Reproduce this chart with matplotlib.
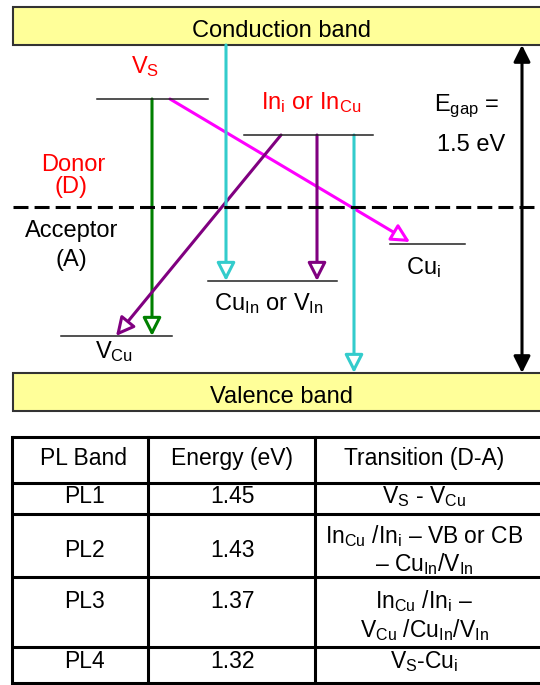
import matplotlib.pyplot as plt
from matplotlib.patches import Rectangle, FancyArrowPatch

plt.rcParams['font.family'] = ['Liberation Sans', 'DejaVu Sans']
plt.rcParams['mathtext.fontset'] = 'custom'
plt.rcParams['mathtext.rm'] = 'Liberation Sans'
plt.rcParams['mathtext.it'] = 'Liberation Sans:italic'
plt.rcParams['mathtext.bf'] = 'Liberation Sans:bold'

# energy levels (x from, x to, y) in picture pixels
level_x0 = [97, 244, 61, 208, 390]
level_x1 = [208, 373, 172, 337, 465]
level_y = [99, 135, 336, 281, 244]

# transitions: start -> end, colour
trans_x0 = [152, 170, 281, 317, 226, 354]
trans_y0 = [99, 99, 135, 135, 45, 135]
trans_x1 = [152, 410, 116, 317, 226, 354]
trans_y1 = [336, 242, 336, 281, 281, 373]
trans_col = ['#008000', '#ff00ff', '#800080', '#800080', '#33cccc', '#33cccc']

# table
headers = ['PL Band', 'Energy (eV)', 'Transition (D-A)']
pl_bands = ['PL1', 'PL2', 'PL3', 'PL4']
energies = ['1.45', '1.43', '1.37', '1.32']
transitions = [
    [r'$\mathrm{V}_\mathrm{S}$ - $\mathrm{V}_\mathrm{Cu}$'],
    [r'$\mathrm{In}_\mathrm{Cu}$ /$\mathrm{In}_\mathrm{i}$ – VB or CB',
     r'– $\mathrm{Cu}_\mathrm{In}$/$\mathrm{V}_\mathrm{In}$'],
    [r'$\mathrm{In}_\mathrm{Cu}$ /$\mathrm{In}_\mathrm{i}$ –',
     r'$\mathrm{V}_\mathrm{Cu}$ /$\mathrm{Cu}_\mathrm{In}$/$\mathrm{V}_\mathrm{In}$'],
    [r'$\mathrm{V}_\mathrm{S}$-$\mathrm{Cu}_\mathrm{i}$'],
]
row_lines = [437, 483, 514, 577, 647, 683]
col_lines = [12, 148, 315]
pl_base = [503, 557, 608, 668]
tr_base = [[503], [543, 571], [608, 637], [668]]

FS = 17
TFS = 16.5

fig = plt.figure(figsize=(5.4, 6.85), dpi=100)
ax = fig.add_axes([0, 0, 1, 1])
ax.set_xlim(0, 540)
ax.set_ylim(685, 0)
ax.axis('off')

# bands
for y0, y1, name, base in [(7, 45, 'Conduction band', 37), (373, 411, 'Valence band', 403)]:
    ax.add_patch(Rectangle((13, y0), 540, y1 - y0, fc='#ffff99', ec='#333333', lw=1.5))
    ax.text(282, base, name, ha='center', va='baseline', fontsize=FS)

ax.plot([13, 540], [207, 207], color='black', lw=2.2, ls=(0, (4.9, 2)))

for x0, x1, y in zip(level_x0, level_x1, level_y):
    ax.plot([x0, x1], [y, y], color='#222222', lw=1.1)

for x0, y0, x1, y1, c in zip(trans_x0, trans_y0, trans_x1, trans_y1, trans_col):
    ax.add_patch(FancyArrowPatch((x0, y0), (x1, y1),
                                 arrowstyle='-|>,head_length=0.55,head_width=0.28',
                                 mutation_scale=20, shrinkA=0, shrinkB=0,
                                 ec=c, fc='white', lw=2.2))

ax.add_patch(FancyArrowPatch((522, 45), (522, 373),
                             arrowstyle='<|-|>,head_length=0.5,head_width=0.25',
                             mutation_scale=20, shrinkA=0, shrinkB=0,
                             ec='black', fc='black', lw=2.2))

red = '#ff0000'
ax.text(131, 73, r'$\mathrm{V}_\mathrm{S}$', color=red, fontsize=FS, va='baseline')
ax.text(261, 109, r'$\mathrm{In}_\mathrm{i}$ or $\mathrm{In}_\mathrm{Cu}$', color=red,
        fontsize=FS, va='baseline')
ax.text(73, 171, 'Donor', color=red, fontsize=FS, ha='center', va='baseline')
ax.text(71, 193, '(D)', color=red, fontsize=FS, ha='center', va='baseline')
ax.text(72, 237, 'Acceptor', fontsize=FS, ha='center', va='baseline')
ax.text(71, 266, '(A)', fontsize=FS, ha='center', va='baseline')
ax.text(434, 111, r'$\mathrm{E}_\mathrm{gap}$ =', fontsize=FS, va='baseline')
ax.text(437, 151, '1.5 eV', fontsize=FS, va='baseline')
ax.text(406, 274, r'$\mathrm{Cu}_\mathrm{i}$', fontsize=FS, va='baseline')
ax.text(214, 310, r'$\mathrm{Cu}_\mathrm{In}$ or $\mathrm{V}_\mathrm{In}$', fontsize=FS, va='baseline')
ax.text(95, 358, r'$\mathrm{V}_\mathrm{Cu}$', fontsize=FS, va='baseline')

# table
for y in row_lines:
    ax.plot([12, 545], [y, y], color='black', lw=2.2, solid_capstyle='butt')
for x in col_lines:
    ax.plot([x, x], [row_lines[0], row_lines[-1]], color='black', lw=2.2)

col_cx = [84, 232, 424]
for cx, h in zip(col_cx, headers):
    ax.text(cx, 465, h, ha='center', va='baseline', fontsize=TFS)
for i in range(4):
    ax.text(col_cx[0], pl_base[i], pl_bands[i], ha='center', va='baseline', fontsize=TFS)
    ax.text(col_cx[1], pl_base[i], energies[i], ha='center', va='baseline', fontsize=TFS)
    for line, b in zip(transitions[i], tr_base[i]):
        ax.text(col_cx[2], b, line, ha='center', va='baseline', fontsize=TFS)

fig.savefig('out.png', dpi=100, facecolor='white')
